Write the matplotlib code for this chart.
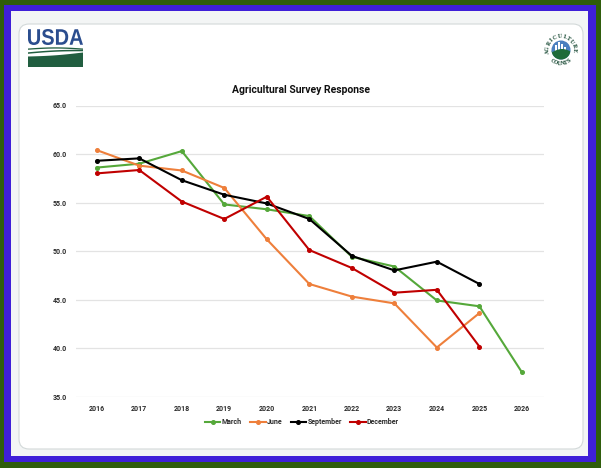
import numpy as np
import matplotlib
matplotlib.use("Agg")
import matplotlib.pyplot as plt
from matplotlib.patches import Rectangle, FancyBboxPatch, Circle, Polygon, PathPatch
from matplotlib.textpath import TextPath
from matplotlib.font_manager import FontProperties
from matplotlib.transforms import Affine2D

# ---------------- data ----------------
years = [2016, 2017, 2018, 2019, 2020, 2021, 2022, 2023, 2024, 2025, 2026]
march = [58.6, 59.0, 60.3, 54.8, 54.3, 53.6, 49.4, 48.4, 44.9, 44.3, 37.5]
june = [60.4, 58.8, 58.3, 56.5, 51.2, 46.6, 45.3, 44.6, 40.05, 43.6]
september = [59.3, 59.55, 57.3, 55.8, 54.9, 53.3, 49.5, 48.0, 48.9, 46.6]
december = [58.0, 58.35, 55.1, 53.3, 55.6, 50.1, 48.25, 45.7, 46.0, 40.15]
series_names = ["March", "June", "September", "December"]
series_colors = ["#55a83a", "#ee7f3b", "#000000", "#c00000"]
yticks = [35, 40, 45, 50, 55, 60, 65]
title = "Agricultural Survey Response"

plt.rcParams['font.family'] = ['Roboto', 'DejaVu Sans']

W, H = 601, 468
fig = plt.figure(figsize=(W / 100, H / 100), dpi=100)
fig.patch.set_facecolor("#2f5d0c")

# overlay axes in pixel coordinates for frame and logos
bg = fig.add_axes([0, 0, 1, 1], zorder=0)
bg.set_xlim(0, W)
bg.set_ylim(H, 0)
bg.axis("off")

bg.add_patch(Rectangle((4, 5), 592, 457, facecolor="#3f1fd8", edgecolor="none"))
bg.add_patch(Rectangle((11, 11), 577, 445, facecolor="#f3f5f5", edgecolor="none"))
bg.add_patch(FancyBboxPatch((19, 24), 564, 425, boxstyle="round,pad=0,rounding_size=10",
                            facecolor="white", edgecolor="#d3d9d9", linewidth=0.8))

# USDA logo
fp = FontProperties(family=["Liberation Sans Narrow", "Liberation Sans", "DejaVu Sans"],
                    weight="bold")
tp = TextPath((0, 0), "USDA", prop=fp, size=10)
ext = tp.get_extents()
sx = (83 - 28) / ext.width
sy = (45 - 29) / ext.height
tr = Affine2D().translate(-ext.x0, -ext.y0).scale(sx, -sy).translate(28, 45)
bg.add_patch(PathPatch(tr.transform_path(tp), facecolor="#2b4d8e", edgecolor="none"))
xs = np.linspace(28, 83, 60)
u = (xs - 28) / 55
green = "#215e40"
top1 = 48.5 - 1.2 * np.sin(u * np.pi)
bg.add_patch(Polygon(np.c_[np.r_[xs, xs[::-1]], np.r_[top1, (top1 + 1.3)[::-1]]],
                     facecolor=green, edgecolor="none"))
top2 = 52.3 - 2.5 * u - 0.8 * np.sin(u * np.pi)
bg.add_patch(Polygon(np.c_[np.r_[xs, xs[::-1]], np.r_[top2, (top2 + 1.5)[::-1]]],
                     facecolor=green, edgecolor="none"))
top3 = 56.5 - 4.0 * u + 0.8 * np.sin(u * np.pi)
bg.add_patch(Polygon(np.c_[np.r_[xs, xs[::-1]], np.r_[top3, np.full_like(xs, 67)]],
                     facecolor=green, edgecolor="none"))

# Agriculture Counts logo
cx, cy = 561, 50
bg.add_patch(Circle((cx, cy), 9.5, facecolor="#4a7fbf", edgecolor="none"))
for bx, bw, bh in [(554.5, 2.2, 8), (557.5, 2.0, 11), (560.5, 2.4, 9), (564, 2.0, 6)]:
    bg.add_patch(Rectangle((bx, cy - bh + 3), bw, bh, facecolor="white", edgecolor="none"))
fx = np.linspace(cx - 9.5, cx + 9.5, 40)
fy_top = cy + 2.5 - 3.5 * np.sin((fx - fx[0]) / 19 * np.pi * 0.9)
fy_bot = cy + np.sqrt(np.clip(9.5 ** 2 - (fx - cx) ** 2, 0, None))
bg.add_patch(Polygon(np.c_[np.r_[fx, fx[::-1]], np.r_[fy_top, fy_bot[::-1]]],
                     facecolor="#1f6b3a", edgecolor="none"))
word_top = "AGRICULTURE"
angs = np.linspace(168, 362, len(word_top))
for ch, a in zip(word_top, angs):
    rad = np.deg2rad(a)
    bg.text(cx + 13.5 * np.cos(rad), cy + 13.5 * np.sin(rad), ch, fontsize=3.6, color="#1f4f3a",
            fontweight="bold", ha="center", va="center", rotation=-(a - 270),
            family="DejaVu Serif")
word_bot = "COUNTS"
angs = np.linspace(128, 52, len(word_bot))
for ch, a in zip(word_bot, angs):
    rad = np.deg2rad(a)
    bg.text(cx + 13.5 * np.cos(rad), cy + 13.5 * np.sin(rad), ch, fontsize=3.6, color="#1f4f3a",
            fontweight="bold", ha="center", va="center", rotation=-(a - 90),
            family="DejaVu Serif")

# ---------------- chart ----------------
ax = fig.add_axes([75.5 / W, 1 - 396.5 / H, (544 - 75.5) / W, (396.5 - 105.5) / H], zorder=2)
ax.patch.set_alpha(0)
for name, vals, col in zip(series_names, [march, june, september, december], series_colors):
    ax.plot(years[:len(vals)], vals, color=col, lw=1.5, marker="o", ms=2.6, label=name)

ax.set_xlim(2015.5, 2026.52)
ax.set_ylim(35, 65)
ax.set_xticks(years)
ax.set_xticklabels([str(y) for y in years])
ax.set_yticks(yticks)
ax.set_yticklabels([f"{v:.1f}" for v in yticks])
ax.tick_params(length=0, labelsize=5, labelcolor="#2a2a2a", pad=6)
for lab in ax.get_xticklabels() + ax.get_yticklabels():
    lab.set_fontweight("bold")
ax.grid(axis="y", color="#e3e3e3", lw=0.9)
ax.set_axisbelow(True)
for s in ax.spines.values():
    s.set_visible(False)

fig.text(301 / W, 1 - 90 / H, title, ha="center", va="center", fontsize=7.5,
         fontweight="bold", color="#111111")

leg = fig.legend(loc="center", bbox_to_anchor=(302 / W, 1 - 422 / H), ncol=4, frameon=False,
                 fontsize=5, handlelength=2.2, handletextpad=0.2, columnspacing=1.2)
for t in leg.get_texts():
    t.set_fontweight("bold")
    t.set_color("#2a2a2a")

fig.savefig("out.png", dpi=100, facecolor=fig.get_facecolor())
